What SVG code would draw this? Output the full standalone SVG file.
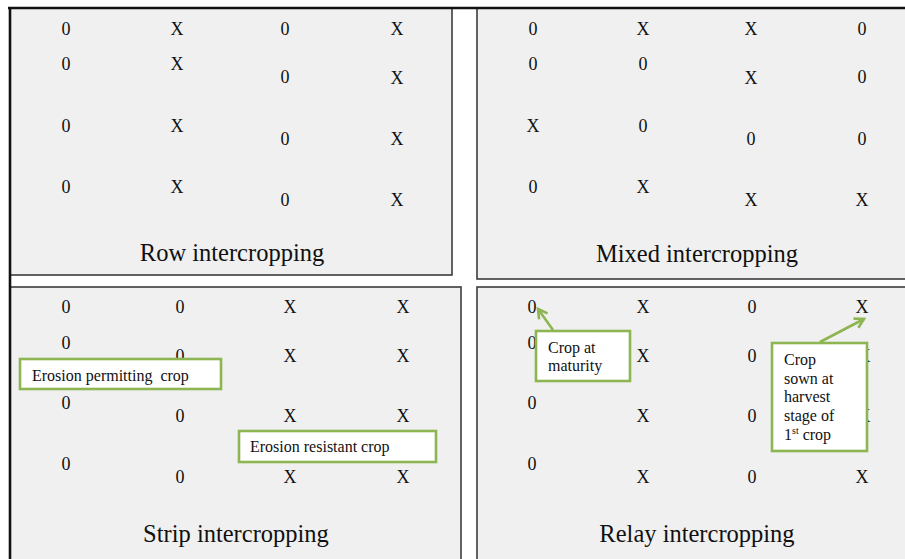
<svg xmlns="http://www.w3.org/2000/svg" width="905" height="559" viewBox="0 0 905 559">
<style>
.panel{fill:#f0f0f0;stroke:#3c3c3c;stroke-width:1.6}
.m{font-family:"Liberation Serif","Times New Roman",serif;font-size:18px;fill:#111;text-anchor:middle}
.t{font-family:"Liberation Serif","Times New Roman",serif;font-size:24.5px;fill:#111;text-anchor:middle}
.lb{fill:#fff;stroke:#8db552;stroke-width:2.6}
.lt{font-family:"Liberation Serif","Times New Roman",serif;font-size:16px;fill:#111;white-space:pre}
.ar{stroke:#8db552;stroke-width:2.6;fill:none}
</style>
<defs>
<marker id="ah" viewBox="0 0 10 10" refX="8" refY="5" markerWidth="5" markerHeight="5" orient="auto" markerUnits="strokeWidth">
<path d="M1,1 L8,5 L1,9" fill="none" stroke="#8db552" stroke-width="2"/>
</marker>
</defs>
<rect width="905" height="559" fill="#fff"/>

<g id="panel-row">
<rect class="panel" x="10" y="8" width="442" height="267"/>
<text class="m" x="66" y="35">0</text><text class="m" x="177" y="35">X</text><text class="m" x="285" y="35">0</text><text class="m" x="397" y="35">X</text>
<text class="m" x="66" y="70">0</text><text class="m" x="177" y="70">X</text><text class="m" x="285" y="83">0</text><text class="m" x="397" y="84">X</text>
<text class="m" x="66" y="132">0</text><text class="m" x="177" y="132">X</text><text class="m" x="285" y="145">0</text><text class="m" x="397" y="145">X</text>
<text class="m" x="66" y="193">0</text><text class="m" x="177" y="193">X</text><text class="m" x="285" y="206">0</text><text class="m" x="397" y="206">X</text>
<text class="t" x="232" y="261">Row intercropping</text>
</g>

<g id="panel-mixed">
<rect class="panel" x="477" y="8" width="440" height="271"/>
<text class="m" x="533" y="35">0</text><text class="m" x="643" y="35">X</text><text class="m" x="751" y="35">X</text><text class="m" x="862" y="35">0</text>
<text class="m" x="533" y="70">0</text><text class="m" x="643" y="70">0</text><text class="m" x="751" y="84">X</text><text class="m" x="862" y="83">0</text>
<text class="m" x="533" y="132">X</text><text class="m" x="643" y="132">0</text><text class="m" x="751" y="145">0</text><text class="m" x="862" y="145">0</text>
<text class="m" x="533" y="193">0</text><text class="m" x="643" y="193">X</text><text class="m" x="751" y="206">X</text><text class="m" x="862" y="206">X</text>
<text class="t" x="697" y="262">Mixed intercropping</text>
</g>

<g id="panel-strip">
<rect class="panel" x="10" y="287" width="451" height="290"/>
<text class="m" x="66" y="313">0</text><text class="m" x="180" y="313">0</text><text class="m" x="290" y="313">X</text><text class="m" x="403" y="313">X</text>
<text class="m" x="66" y="349">0</text><text class="m" x="180" y="362">0</text><text class="m" x="290" y="362">X</text><text class="m" x="403" y="362">X</text>
<text class="m" x="66" y="409">0</text><text class="m" x="180" y="422">0</text><text class="m" x="290" y="422">X</text><text class="m" x="403" y="422">X</text>
<text class="m" x="66" y="470">0</text><text class="m" x="180" y="483">0</text><text class="m" x="290" y="483">X</text><text class="m" x="403" y="483">X</text>
<text class="t" x="236" y="542">Strip intercropping</text>
</g>

<g id="label-erosion-permitting">
<rect class="lb" x="20" y="359" width="201" height="30"/>
<text class="lt" x="32" y="381" xml:space="preserve">Erosion permitting  crop</text>
</g>
<g id="label-erosion-resistant">
<rect class="lb" x="239" y="431" width="197" height="31"/>
<text class="lt" x="250" y="452">Erosion resistant crop</text>
</g>

<g id="panel-relay">
<rect class="panel" x="477" y="287" width="440" height="290"/>
<text class="m" x="532" y="313">0</text><text class="m" x="643" y="313">X</text><text class="m" x="752" y="313">0</text><text class="m" x="862" y="313">X</text>
<text class="m" x="532" y="349">0</text><text class="m" x="643" y="362">X</text><text class="m" x="752" y="362">0</text><text class="m" x="864" y="362">X</text>
<text class="m" x="532" y="409">0</text><text class="m" x="643" y="422">X</text><text class="m" x="752" y="422">0</text><text class="m" x="864" y="422">X</text>
<text class="m" x="532" y="470">0</text><text class="m" x="643" y="483">X</text><text class="m" x="752" y="483">0</text><text class="m" x="862" y="483">X</text>
<text class="t" x="697" y="542">Relay intercropping</text>
</g>

<g id="label-crop-maturity">
<rect class="lb" x="536" y="331" width="94" height="50"/>
<text class="lt" x="548" y="353">Crop at</text>
<text class="lt" x="548" y="371">maturity</text>
</g>
<g id="label-crop-sown">
<rect class="lb" x="772" y="343" width="95" height="108"/>
<text class="lt" x="784" y="365">Crop</text>
<text class="lt" x="784" y="384">sown at</text>
<text class="lt" x="784" y="402">harvest</text>
<text class="lt" x="784" y="421">stage of</text>
<text class="lt" x="784" y="440">1<tspan font-size="10" dy="-6">st</tspan><tspan dy="6"> crop</tspan></text>
</g>

<g id="connectors">
<line class="ar" x1="553" y1="330" x2="538" y2="309" marker-end="url(#ah)"/>
<line class="ar" x1="820" y1="342" x2="864" y2="319" marker-end="url(#ah)"/>
</g>

<g id="frame">
<line x1="8" y1="8" x2="905" y2="8" stroke="#111" stroke-width="2.6"/>
<line x1="10" y1="7" x2="10" y2="559" stroke="#111" stroke-width="2.6"/>
</g>
</svg>
